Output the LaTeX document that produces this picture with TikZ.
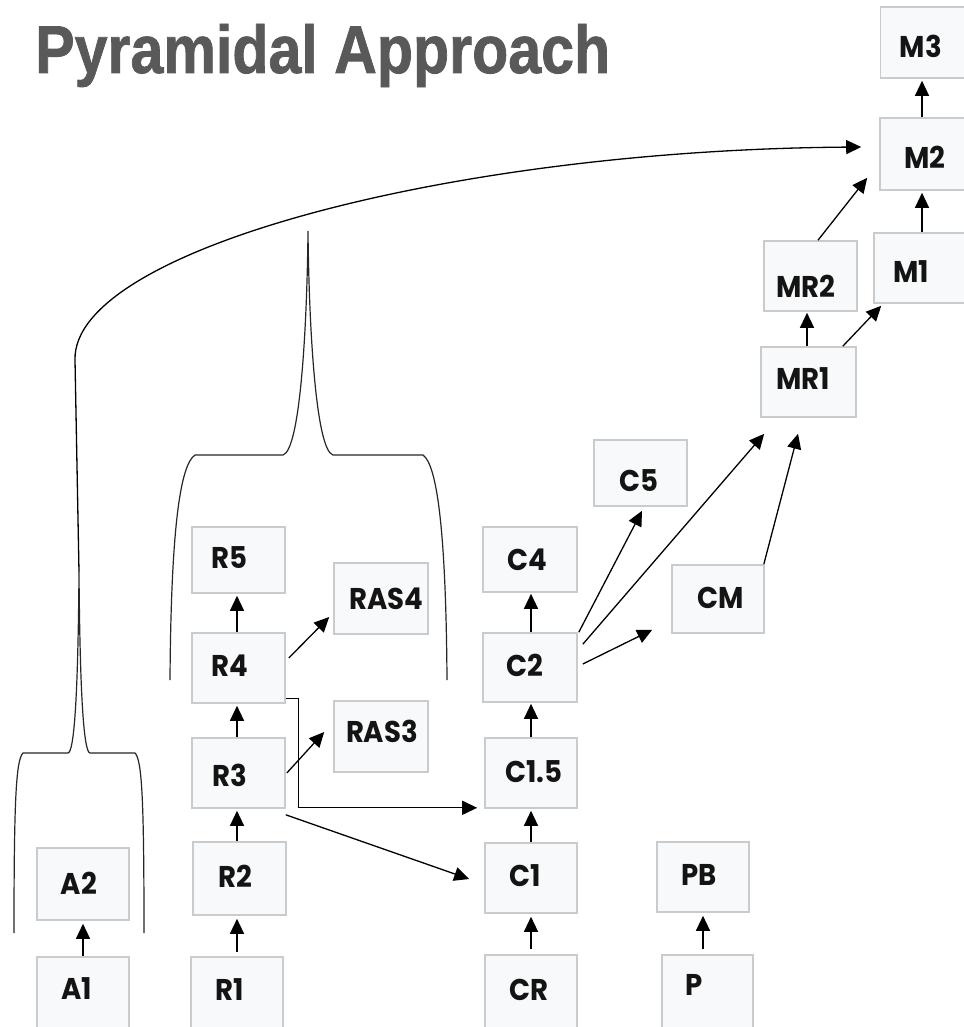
\documentclass[tikz,border=0pt]{standalone}
\usepackage{fontspec}
\setmainfont{Poppins}
\newfontfamily\lblfont{Poppins}[FakeStretch=0.92]
\newfontfamily\titlefont{Liberation Sans}[BoldFeatures={FakeBold=1.2}]
\usetikzlibrary{arrows.meta,calc}
\definecolor{boxfill}{HTML}{F8F9FA}
\definecolor{boxline}{HTML}{C9CCCF}
\definecolor{titlegray}{HTML}{595959}
\tikzset{
  box/.style={draw=boxline, fill=boxfill, line width=1.6pt, inner sep=0pt},
  lbl/.style={font=\lblfont\bfseries\fontsize{30}{30}\selectfont, text=black!92, inner sep=0pt},
  arr/.style={line width=1.3pt, -{Triangle[length=15pt,width=14pt]}},
  brace/.style={line width=1.2pt, draw=black!85},
}
\begin{document}
\begin{tikzpicture}[x=1pt,y=-1pt]
\useasboundingbox (0,0) rectangle (963,1027);
\fill[white] (0,0) rectangle (963,1027);
\node[anchor=base west, inner sep=0pt, text=titlegray] (title) at (35,73) {\resizebox{575pt}{49pt}{\titlefont\bfseries Pyramidal Approach}};

% boxes
\node[box, minimum width=86pt, minimum height=71pt] (M3) at (923.5,42.5) {};
\node[box, minimum width=86pt, minimum height=72pt] (M2) at (923,154) {};
\node[box, minimum width=92pt, minimum height=70pt] (M1) at (920,268) {};
\node[box, minimum width=93pt, minimum height=70pt] (MR2) at (810.5,276) {};
\node[box, minimum width=95pt, minimum height=70pt] (MR1) at (808.5,382) {};
\node[box, minimum width=93pt, minimum height=66pt] (C5) at (640.5,473) {};
\node[box, minimum width=94pt, minimum height=65pt] (C4) at (530,559.5) {};
\node[box, minimum width=94pt, minimum height=69pt] (C2) at (530,667.5) {};
\node[box, minimum width=92pt, minimum height=70pt] (C15) at (531,773) {};
\node[box, minimum width=92pt, minimum height=70pt] (C1) at (531,878) {};
\node[box, minimum width=92pt, minimum height=80pt] (CR) at (531,995) {};
\node[box, minimum width=92pt, minimum height=68pt] (CM) at (718,599) {};
\node[box, minimum width=92pt, minimum height=70pt] (PB) at (703,877) {};
\node[box, minimum width=91pt, minimum height=80pt] (P) at (707.5,995) {};
\node[box, minimum width=93pt, minimum height=66pt] (R5) at (238.5,560) {};
\node[box, minimum width=93pt, minimum height=70pt] (R4) at (238.5,668) {};
\node[box, minimum width=93pt, minimum height=70pt] (R3) at (238.5,773) {};
\node[box, minimum width=93pt, minimum height=73pt] (R2) at (239.5,878.5) {};
\node[box, minimum width=92pt, minimum height=78pt] (R1) at (237,996) {};
\node[box, minimum width=94pt, minimum height=71pt] (RAS4) at (381,598.5) {};
\node[box, minimum width=94pt, minimum height=71pt] (RAS3) at (381,736.5) {};
\node[box, minimum width=92pt, minimum height=72pt] (A2) at (83,884) {};
\node[box, minimum width=92pt, minimum height=78pt] (A1) at (83,996) {};

% labels
\node[lbl] at (921,46) {M3};
\node[lbl] at (925,157) {M2};
\node[lbl] at (911,272) {M1};
\node[lbl] at (806,286) {MR2};
\node[lbl] at (803,379) {MR1};
\node[lbl] at (639,481) {C5};
\node[lbl] at (527,560) {C4};
\node[lbl] at (525,665) {C2};
\node[lbl] at (534,772) {C1.5};
\node[lbl] at (525,876) {C1};
\node[lbl] at (529,990) {CR};
\node[lbl] at (721,598) {CM};
\node[lbl] at (699,875) {PB};
\node[lbl] at (694.5,985) {P};
\node[lbl] at (229,558) {R5};
\node[lbl] at (230,666) {R4};
\node[lbl] at (230,775) {R3};
\node[lbl] at (235,876) {R2};
\node[lbl] at (230,990) {R1};
\node[lbl] at (386,599) {RAS4};
\node[lbl] at (382,731) {RAS3};
\node[lbl] at (79,883) {A2};
\node[lbl] at (77,989) {A1};

% braces
\coordinate (atip) at (79,572);
\coordinate (rtip) at (308,231);
\draw[brace] (14,933) .. controls (14,800) and (16,760) .. (23,753) -- (68,753)
  .. controls (74,752) and (78,700) .. (atip)
  .. controls (80,700) and (84,752) .. (90,753) -- (135,753)
  .. controls (142,760) and (144,800) .. (144,933);
\draw[brace] (170,680) .. controls (171,530) and (180,465) .. (195,455) -- (283,455)
  .. controls (300,450) and (307,330) .. (rtip)
  .. controls (309,330) and (316,450) .. (333,455) -- (423,455)
  .. controls (437,465) and (446,530) .. (447,680);

% big curved arrow
\draw[arr] (atip) -- (75,360) .. controls (72,250) and (450,150) .. ([xshift=-18pt,yshift=7pt]M2.west);

% vertical arrows
\draw[arr, shorten >=3pt] (A1.north) -- (A1.north |- A2.south);
\draw[arr, shorten >=3pt] ([yshift=4pt]R1.north) -- (R1.north |- R2.south);
\draw[arr, shorten >=2pt] (R2.north -| R1.north) -- (R1.north |- R3.south);
\draw[arr, shorten >=2pt] (R3.north -| R1.north) -- (R1.north |- R4.south);
\draw[arr, shorten >=2pt] (R4.north -| R1.north) -- (R1.north |- R5.south);
\draw[arr, shorten >=3pt] ([yshift=5pt]CR.north) -- (CR.north |- C1.south);
\draw[arr, shorten >=2pt] (C1.north) -- (C1.north |- C15.south);
\draw[arr, shorten >=1pt] (C15.north) -- (C15.north |- C2.south);
\draw[arr, shorten >=1pt] (C2.north -| C15.north) -- (C15.north |- C4.south);
\draw[arr, shorten >=3pt] ([yshift=5pt]P.north -| PB.south) -- (PB.south);
\draw[arr, shorten >=1pt] (MR1.north -| 807,0) -- (MR2.south -| 807,0);
\draw[arr, shorten >=2pt] (M1.north -| 922,0) -- (M2.south -| 922,0);
\draw[arr, shorten >=2pt] (M2.north -| 922,0) -- (M3.south -| 922,0);

% diagonal arrows
\draw[arr] ([xshift=3pt,yshift=10pt]R4.east) -- ([xshift=-4pt,yshift=-18.5pt]RAS4.west);
\draw[arr] ([xshift=1pt]R3.east) -- ([xshift=-9pt,yshift=4.5pt]RAS3.west);
\draw[arr] ([yshift=5pt]R4.south east) -- ++(13,0) |- ([xshift=-7pt,yshift=1pt]C15.south west);
\draw[arr] ([yshift=-6pt]R3.south east) -- ([xshift=-15pt,yshift=-1pt]C1.west);
\draw[arr] ([xshift=1pt]C2.north east) -- ([xshift=1.5pt,yshift=-4pt]C5.south);
\draw[arr] ([xshift=5pt,yshift=-12pt]C2.north east) -- ([xshift=4pt,yshift=-16pt]MR1.south west);
\draw[arr] ([xshift=5pt,yshift=3.5pt]C2.east) -- ([xshift=-19pt,yshift=4pt]CM.south west);
\draw[arr] ([xshift=-1pt]CM.north east) -- ([xshift=-10.5pt,yshift=-16pt]MR1.south);
\draw[arr] ([xshift=-14pt]MR1.north east) -- ([xshift=8pt,yshift=-2pt]M1.south west);
\draw[arr] ([xshift=7.5pt]MR2.north) -- ([xshift=-12pt,yshift=13pt]M2.south west);
\end{tikzpicture}
\end{document}
